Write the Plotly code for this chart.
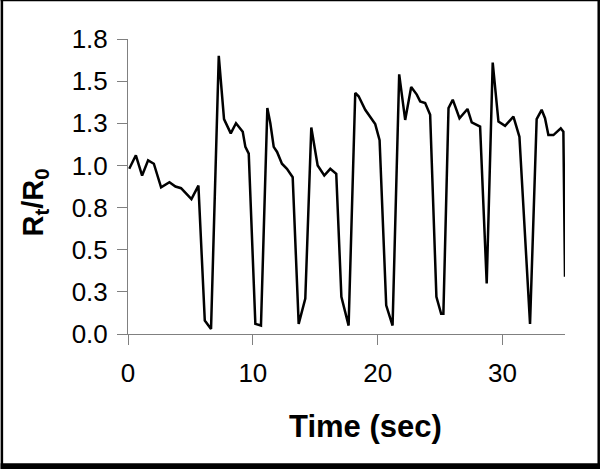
import plotly.graph_objects as go

# values
time_sec = [0.1, 0.63, 1.13, 1.61, 2.07, 2.65, 3.32, 3.8, 4.25, 5.08, 5.64, 6.15, 6.65,
            7.27, 7.69, 8.23, 8.65, 9.19, 9.4, 9.67, 10.2, 10.65, 11.16, 11.4, 11.67,
            11.94, 12.33, 12.73, 13.19, 13.67, 14.2, 14.68, 15.19, 15.72, 16.2, 16.68,
            17.09, 17.67, 18.2, 18.47, 19.0, 19.4, 19.8, 20.15, 20.68, 21.19, 21.72,
            22.2, 22.68, 23.13, 23.4, 23.8, 24.2, 24.7, 25.08, 25.26, 25.67, 26.01,
            26.55, 27.19, 27.53, 28.2, 28.73, 29.21, 29.67, 30.2, 30.87, 31.35, 32.2,
            32.73, 33.13, 33.4, 33.67, 34.07, 34.66, 34.87, 35.0]
ratio = [0.98, 1.06, 0.94, 1.03, 1.01, 0.87, 0.90, 0.875, 0.865, 0.80, 0.88, 0.08, 0.03,
         1.65, 1.275, 1.19, 1.25, 1.20, 1.11, 1.07, 0.06, 0.05, 1.34, 1.25, 1.11,
         1.08, 1.01, 0.98, 0.93, 0.06, 0.21, 1.225, 1.00, 0.94, 0.98, 0.95,
         0.22, 0.05, 1.43, 1.41, 1.33, 1.29, 1.245, 1.15, 0.17, 0.05, 1.54,
         1.27, 1.465, 1.42, 1.38, 1.37, 1.30, 0.22, 0.12, 0.12, 1.34, 1.39,
         1.28, 1.335, 1.255, 1.23, 0.30, 1.61, 1.26, 1.235, 1.29, 1.17, 0.06,
         1.275, 1.33, 1.28, 1.18, 1.18, 1.22, 1.20, 0.34]

y_ticks = [0, 0.25, 0.5, 0.75, 1.0, 1.25, 1.5, 1.75]
y_labels = ["0.0", "0.3", "0.5", "0.8", "1.0", "1.3", "1.5", "1.8"]
x_ticks = [0, 10, 20, 30]

W, H = 600, 469
L, R, T, B = 127.5, 35, 39.3, 135
pw, ph = W - L - R, H - T - B


def px_x(x):
    return (x - L) / pw


def px_y(y):
    return (H - B - y) / ph


fig = go.Figure()
fig.add_trace(go.Scatter(x=time_sec, y=ratio, mode="lines",
                         line=dict(color="black", width=2.5), showlegend=False))

font = "Liberation Sans, Arial, sans-serif"
fig.update_layout(
    width=W, height=H,
    margin=dict(l=L, r=R, t=T, b=B),
    paper_bgcolor="white", plot_bgcolor="white",
    font=dict(family=font, color="black", size=26),
)
axis_style = dict(showgrid=False, zeroline=False, showline=True,
                  linecolor="#808080", linewidth=1, ticks="outside", ticklen=10,
                  tickcolor="#808080", tickfont=dict(size=26))
fig.update_xaxes(range=[0, 35], tickvals=x_ticks, ticklabelstandoff=6, **axis_style)
fig.update_yaxes(range=[0, 1.75], tickvals=y_ticks, ticktext=y_labels,
                 ticklabelstandoff=4, **axis_style)

# axis titles as annotations so they sit where the reference has them
fig.add_annotation(text="<b>Time (sec)</b>", xref="paper", yref="paper",
                   x=px_x(365), y=px_y(426), showarrow=False,
                   xanchor="center", yanchor="middle", font=dict(size=31))
fig.add_annotation(text="<b>R<sub>t</sub>/R<sub>0</sub></b>", xref="paper", yref="paper",
                   x=px_x(34), y=px_y(203), showarrow=False, textangle=-90,
                   xanchor="center", yanchor="middle", font=dict(size=29))

# outer frame of the picture
for x0, y0, x1, y1 in [(0, 0, 2.5, H), (0, 0, W, 1.5), (597.5, 0, W, H), (0, 463, W, H)]:
    fig.add_shape(type="rect", xref="paper", yref="paper", line_width=0,
                  fillcolor="black", layer="above",
                  x0=px_x(x0), x1=px_x(x1), y0=px_y(y0), y1=px_y(y1))

fig.write_html("out.html", config={"displayModeBar": False},
               post_script="document.body.style.margin='0';")
